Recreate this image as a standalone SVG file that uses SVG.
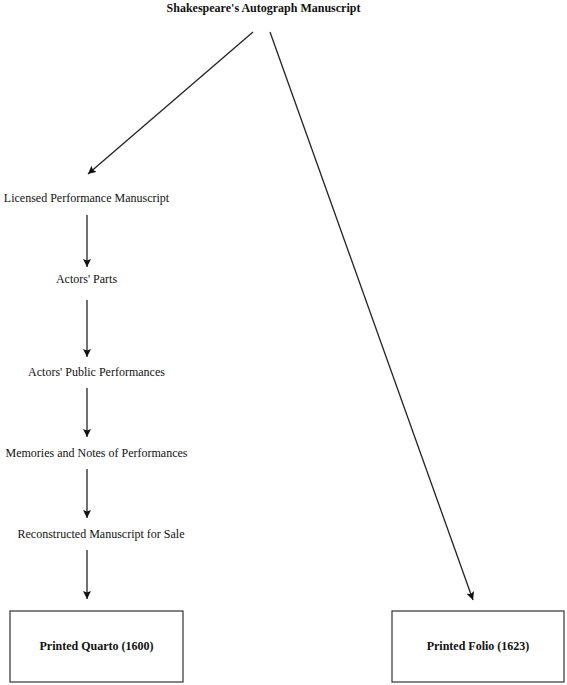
<svg xmlns="http://www.w3.org/2000/svg" width="567" height="685" viewBox="0 0 567 685">
<style>
text{font-family:"Liberation Serif","Times New Roman",serif;font-size:12px;fill:#111;text-anchor:middle}
.b{font-weight:bold}
.c{stroke:#222;stroke-width:1.3;fill:none;marker-end:url(#ah)}
.box{fill:#fff;stroke:#333;stroke-width:1.2}
</style>
<defs>
<marker id="ah" viewBox="0 0 10 10" refX="10" refY="5" markerWidth="8" markerHeight="8" markerUnits="userSpaceOnUse" orient="auto"><path d="M0,0 L10,5 L0,10 L2,5 z" fill="#111"/></marker>
</defs>
<rect width="567" height="685" fill="#fff"/>
<g id="connectors">
<line class="c" x1="253" y1="32" x2="88" y2="174"/>
<line class="c" x1="270" y1="32" x2="473" y2="600"/>
<line class="c" x1="87" y1="215" x2="87" y2="267"/>
<line class="c" x1="87" y1="300" x2="87" y2="357"/>
<line class="c" x1="87" y1="388" x2="87" y2="437"/>
<line class="c" x1="87" y1="469" x2="87" y2="518"/>
<line class="c" x1="87" y1="550" x2="87" y2="599"/>
</g>
<g id="autograph"><text class="b" x="263.5" y="12">Shakespeare's Autograph Manuscript</text></g>
<g id="licensed"><text x="86.5" y="202">Licensed Performance Manuscript</text></g>
<g id="parts"><text x="86.5" y="283">Actors' Parts</text></g>
<g id="public"><text x="96.5" y="376">Actors' Public Performances</text></g>
<g id="memories"><text x="96.5" y="457">Memories and Notes of Performances</text></g>
<g id="reconstructed"><text x="101" y="538">Reconstructed Manuscript for Sale</text></g>
<g id="quarto"><rect class="box" x="10" y="611" width="173" height="71"/><text class="b" x="96.5" y="650">Printed Quarto (1600)</text></g>
<g id="folio"><rect class="box" x="392" y="611" width="172" height="71"/><text class="b" x="478" y="650">Printed Folio (1623)</text></g>
</svg>
